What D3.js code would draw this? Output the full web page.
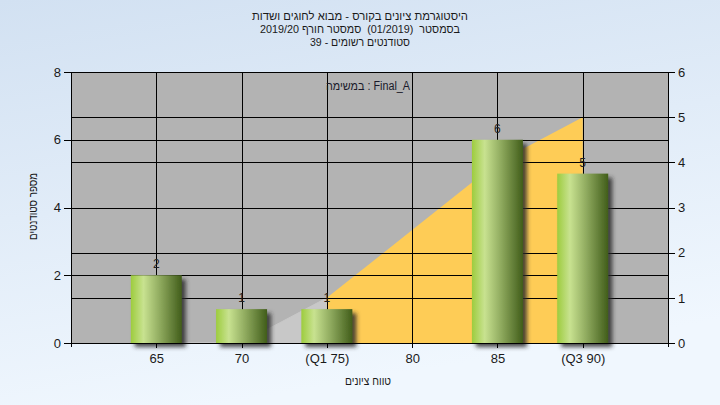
<!DOCTYPE html>
<html><head><meta charset="utf-8">
<script src="https://cdn.jsdelivr.net/npm/d3@7"></script>
<style>body{margin:0;}svg{display:block;} .pre{white-space:pre;}</style>
</head><body>
<svg id="c" width="720" height="405"></svg>
<script>
const categories = [65, 70, 75, 80, 85, 90];
const tickLabels = ["65", "70", "(Q1 75)", "80", "85", "(Q3 90)"];
const counts = [2, 1, 1, 0, 6, 5];
const grayAreaX = [65, 70, 75];
const grayAreaY = [0, 0, 1];
const orangeAreaX = [75, 80, 85, 90];
const orangeAreaY = [1, 2.5, 4, 5];
const leftTicks = [0, 2, 4, 6, 8];
const rightTicks = [0, 1, 2, 3, 4, 5, 6];
const gridX = [65, 70, 75, 80, 85, 90];
const titleLines = ["היסטוגרמת ציונים בקורס - מבוא לחוגים ושדות", "בסמסטר  (01/2019)  סמסטר חורף 2019/20", "סטודנטים רשומים - 39"];
const titleWidths = [216, 200, 100];

const svg = d3.select("#c");
const W = 720, H = 405;
const m = {l: 71, r: 668, t: 72, b: 343};
const font = "'Liberation Sans', Arial, sans-serif";

const defs = svg.append("defs");
const bg = defs.append("linearGradient").attr("id", "bg").attr("x1", 0).attr("y1", 0).attr("x2", 0.3).attr("y2", 1);
bg.append("stop").attr("offset", "0%").attr("stop-color", "#d2e1f2");
bg.append("stop").attr("offset", "100%").attr("stop-color", "#f0f7fe");
const bar = defs.append("linearGradient").attr("id", "bar").attr("x1", 0).attr("y1", 0).attr("x2", 1).attr("y2", 0);
[["0%", "#9dcc3e"], ["25%", "#c8e290"], ["55%", "#93ae62"], ["100%", "#415d1a"]].forEach(s =>
  bar.append("stop").attr("offset", s[0]).attr("stop-color", s[1]));
const f = defs.append("filter").attr("id", "sh").attr("x", "-20%").attr("y", "-20%").attr("width", "150%").attr("height", "150%");
f.append("feDropShadow").attr("dx", 4).attr("dy", 4).attr("stdDeviation", 2).attr("flood-color", "#2a2a2a").attr("flood-opacity", 0.85);

svg.append("rect").attr("width", W).attr("height", H).attr("fill", "url(#bg)");

const x = d3.scaleLinear().domain([60, 95]).range([m.l, m.r]);
const yL = d3.scaleLinear().domain([0, 8]).range([m.b, m.t]);
const yR = d3.scaleLinear().domain([0, 6]).range([m.b, m.t]);

svg.append("rect").attr("x", m.l).attr("y", m.t).attr("width", m.r - m.l).attr("height", m.b - m.t).attr("fill", "#b3b3b3");

// areas
const area = d3.area().x(d => x(d[0])).y0(yR(0)).y1(d => yR(d[1]));
svg.append("path").datum(grayAreaX.map((v, i) => [v, grayAreaY[i]])).attr("d", area).attr("fill", "#c8c8c8").attr("stroke", "#c8c8c8").attr("stroke-width", 1);
svg.append("path").datum(orangeAreaX.map((v, i) => [v, orangeAreaY[i]])).attr("d", area).attr("fill", "#fecc56");

// grid
const g = svg.append("g").attr("stroke", "#000").attr("stroke-width", 1).attr("shape-rendering", "crispEdges");
leftTicks.forEach(t => g.append("line").attr("x1", m.l).attr("x2", m.r).attr("y1", Math.round(yL(t)) + 0.5).attr("y2", Math.round(yL(t)) + 0.5));
rightTicks.forEach(t => g.append("line").attr("x1", m.l).attr("x2", m.r).attr("y1", Math.round(yR(t)) + 0.5).attr("y2", Math.round(yR(t)) + 0.5));
gridX.forEach(t => g.append("line").attr("y1", m.t).attr("y2", m.b).attr("x1", Math.round(x(t)) + 0.5).attr("x2", Math.round(x(t)) + 0.5));

// bars
const bw = 51;
const data = categories.map((c, i) => ({c, v: counts[i]}));
svg.append("g").selectAll("rect").data(data.filter(d => d.v > 0)).join("rect")
  .attr("x", d => x(d.c) - bw / 2).attr("width", bw)
  .attr("y", d => yL(d.v)).attr("height", d => yL(0) - yL(d.v))
  .attr("fill", "url(#bar)").attr("filter", "url(#sh)");

svg.append("g").selectAll("text").data(data.filter(d => d.v > 0)).join("text")
  .attr("x", d => x(d.c)).attr("y", d => yL(d.v) - 7)
  .attr("text-anchor", "middle").attr("font-family", font).attr("font-size", 12).attr("fill", "#222")
  .text(d => d.v);

// axes
const axB = svg.append("g").attr("transform", `translate(0,${m.b})`)
  .call(d3.axisBottom(x).tickValues(categories).tickFormat((d, i) => tickLabels[i]).tickSize(5).tickPadding(6));
const axL = svg.append("g").attr("transform", `translate(${m.l},0)`)
  .call(d3.axisLeft(yL).tickValues(leftTicks).tickFormat(d3.format("d")).tickSize(7).tickPadding(3));
const axR = svg.append("g").attr("transform", `translate(${m.r},0)`)
  .call(d3.axisRight(yR).tickValues(rightTicks).tickFormat(d3.format("d")).tickSize(7).tickPadding(3));
[axB, axL, axR].forEach(a => {
  a.select(".domain").remove();
  a.selectAll("line").attr("stroke", "#000").attr("shape-rendering", "crispEdges");
  a.selectAll("text").attr("font-family", font).attr("font-size", 13).attr("fill", "#1a1a1a");
});
const ax = svg.append("g").attr("stroke", "#000").attr("shape-rendering", "crispEdges");
ax.append("line").attr("x1", m.l).attr("x2", m.r).attr("y1", m.b + 0.5).attr("y2", m.b + 0.5);
ax.append("line").attr("x1", m.l + 0.5).attr("x2", m.l + 0.5).attr("y1", m.t).attr("y2", m.b + 4);
ax.append("line").attr("x1", m.r + 0.5).attr("x2", m.r + 0.5).attr("y1", m.t).attr("y2", m.b + 4);

// titles
titleLines.forEach((t, i) => svg.append("text").attr("class", "pre").attr("x", 360).attr("y", 20 + i * 13)
  .attr("text-anchor", "middle").attr("direction", "rtl").attr("font-family", font).attr("font-size", 11).attr("fill", "#1a1a1a")
  .attr("textLength", titleWidths[i]).attr("lengthAdjust", "spacingAndGlyphs").text(t));

svg.append("text").attr("x", 368).attr("y", 90).attr("text-anchor", "middle").attr("direction", "ltr")
  .attr("font-family", font).attr("font-size", 12).attr("fill", "#1a1a2a")
  .attr("textLength", 84).attr("lengthAdjust", "spacingAndGlyphs").text("במשימה : Final_A");

svg.append("text").attr("transform", `translate(37,${(m.t + m.b) / 2 - 1}) rotate(-90)`).attr("text-anchor", "middle").attr("direction", "rtl")
  .attr("font-family", font).attr("font-size", 12).attr("fill", "#1a1a1a")
  .attr("textLength", 67).attr("lengthAdjust", "spacingAndGlyphs").text("מספר סטודנטים");

svg.append("text").attr("x", 368).attr("y", 385).attr("text-anchor", "middle").attr("direction", "rtl")
  .attr("font-family", font).attr("font-size", 12).attr("fill", "#1a1a1a")
  .attr("textLength", 46).attr("lengthAdjust", "spacingAndGlyphs").text("טווח ציונים");
</script>
</body></html>
